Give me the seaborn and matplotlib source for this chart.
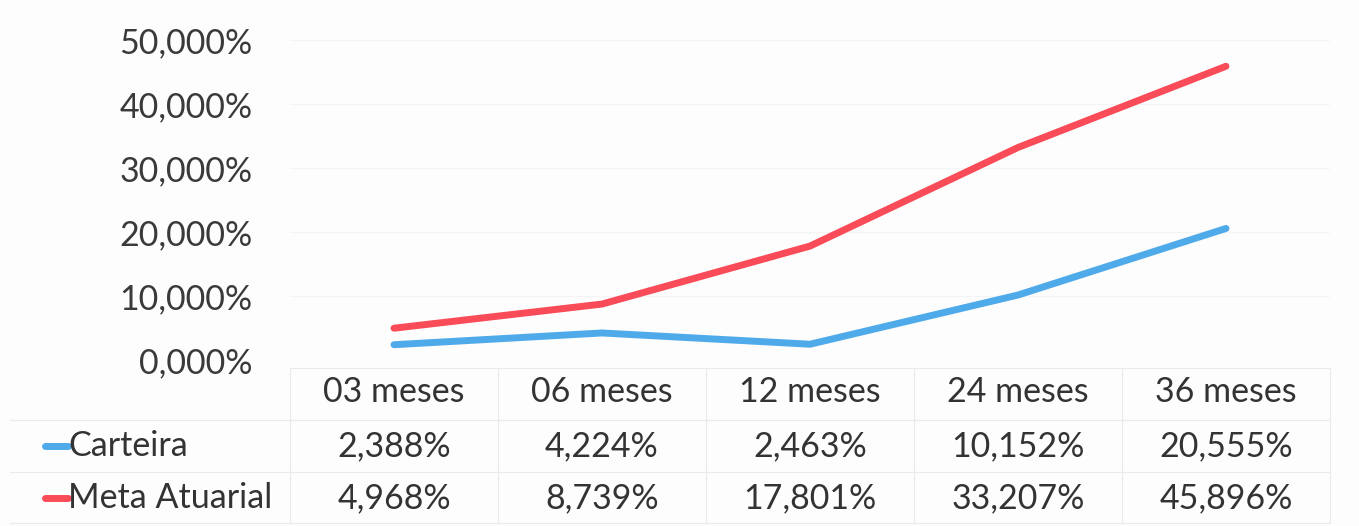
import matplotlib
matplotlib.use("Agg")
import matplotlib.pyplot as plt
import matplotlib.transforms as mtransforms
import pandas as pd
import seaborn as sns

periods = ["03 meses", "06 meses", "12 meses", "24 meses", "36 meses"]
carteira = [2.388, 4.224, 2.463, 10.152, 20.555]
meta_atuarial = [4.968, 8.739, 17.801, 33.207, 45.896]
series_names = ["Carteira", "Meta Atuarial"]
y_ticks = [0, 10, 20, 30, 40, 50]

colors = {"Carteira": "#4FAAEA", "Meta Atuarial": "#FA4B58"}


def pct(v):
    return f"{v:.3f}".replace(".", ",") + "%"


df = pd.DataFrame({
    "pos": list(range(len(periods))) * 2,
    "valor": carteira + meta_atuarial,
    "serie": [series_names[0]] * len(periods) + [series_names[1]] * len(periods),
})

sns.set_theme(style="white")
plt.rcParams["font.family"] = ["Lato", "DejaVu Sans"]
W, H = 1359, 526
FS = 24.5
fig = plt.figure(figsize=(W / 100, H / 100), dpi=100)
fig.patch.set_facecolor("#FDFDFD")

left, right, top, bottom = 290, 1330, 40, 360
ax = fig.add_axes([left / W, 1 - bottom / H, (right - left) / W, (bottom - top) / H])
ax.set_facecolor("none")
sns.lineplot(data=df, x="pos", y="valor", hue="serie", palette=colors,
             linewidth=5, ax=ax, legend=False, solid_capstyle="round")
ax.set_xlim(-0.5, len(periods) - 0.5)
ax.set_ylim(0, 50)
ax.set_yticks(y_ticks)
ax.set_yticklabels([pct(v) for v in y_ticks], fontsize=FS, color="#3A3A3A")
ax.tick_params(axis="y", length=0, pad=27)
ax.set_xticks([])
ax.set_xlabel("")
ax.set_ylabel("")
for s in ax.spines.values():
    s.set_visible(False)
for v in y_ticks[1:]:
    ax.axhline(v, color="#F4F4F7", lw=0.8, zorder=0)

# data table below the plot
tr = mtransforms.blended_transform_factory(ax.transData, fig.transFigure)
fy = lambda py: 1 - py / H
grid_c = "#EAEAEE"
fig.add_artist(plt.Line2D([left / W, right / W], [fy(368), fy(368)], color=grid_c, lw=0.8))
for py in [420, 472, 523]:
    fig.add_artist(plt.Line2D([10 / W, right / W], [fy(py), fy(py)], color=grid_c, lw=0.8))
for k in range(len(periods) + 1):
    x = k - 0.5
    ax.plot([x, x], [fy(368), fy(523)], transform=tr, color=grid_c, lw=0.8, clip_on=False)

text_kw = dict(fontsize=FS, color="#333333", ha="center", va="center")
for i, p in enumerate(periods):
    fig.text(i, fy(392), p, transform=tr, **text_kw)
    fig.text(i, fy(446), pct(carteira[i]), transform=tr, **text_kw)
    fig.text(i, fy(498), pct(meta_atuarial[i]), transform=tr, **text_kw)

for name, py in zip(series_names, [446, 498]):
    fig.add_artist(plt.Line2D([45 / W, 68 / W], [fy(py), fy(py)], color=colors[name], lw=5))
    fig.text(68 / W, fy(py), name, fontsize=FS, color="#333333", ha="left", va="center")

fig.savefig("out.png", dpi=100, facecolor=fig.get_facecolor())
